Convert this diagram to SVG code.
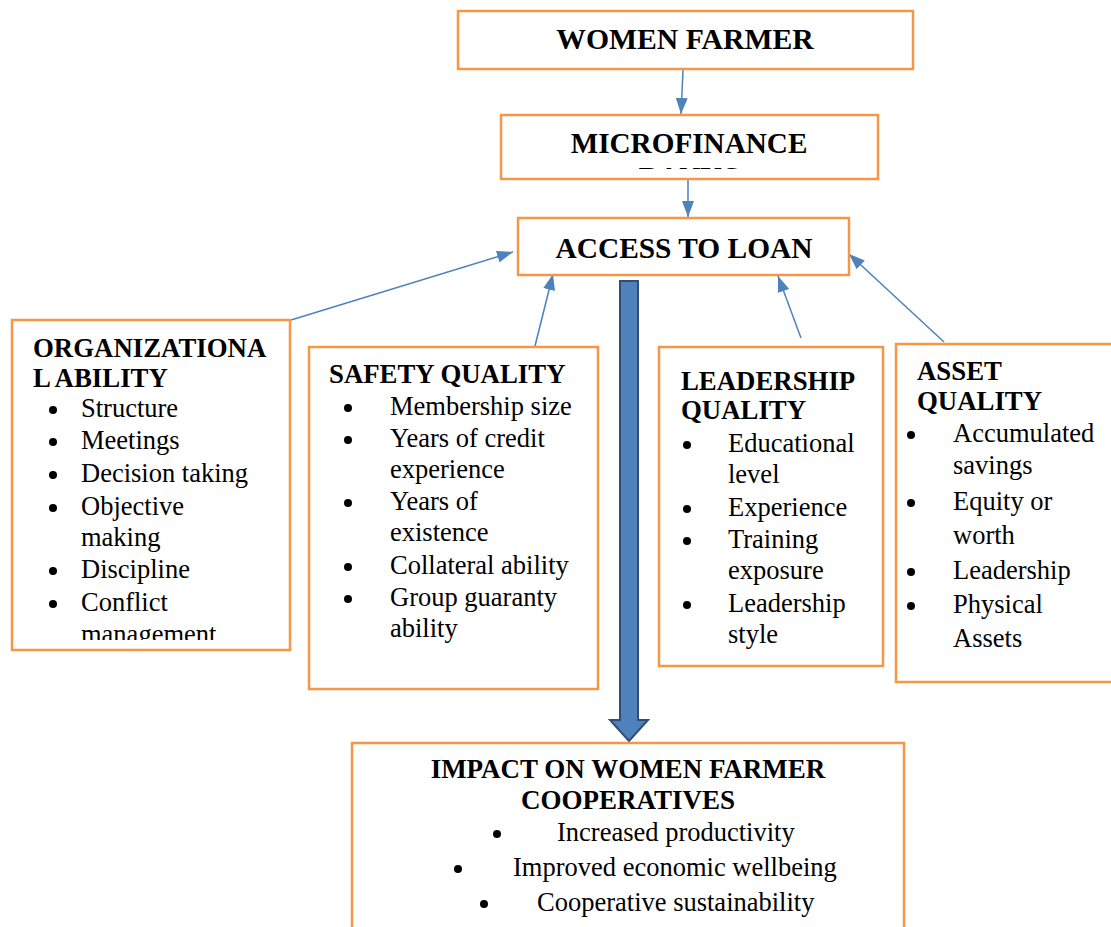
<svg xmlns="http://www.w3.org/2000/svg" width="1111" height="927" viewBox="0 0 1111 927">
  <style>
    .box { fill: #ffffff; stroke: #F79646; stroke-width: 2.5; }
    .title { font-family: "Liberation Serif", "Times New Roman", serif; font-weight: bold; fill: #000; }
    .body { font-family: "Liberation Serif", "Times New Roman", serif; font-size: 26.5px; fill: #000; }
    .dot { fill: #000; }
  </style>
  <defs>
    <marker id="headLg" viewBox="0 0 16 12" refX="16" refY="6" markerWidth="16" markerHeight="12" markerUnits="userSpaceOnUse" orient="auto">
      <path d="M0,0 L16,6 L0,12 Z" fill="#4F81BD"/>
    </marker>
    <clipPath id="clipMicro"><rect x="501" y="115" width="377" height="54"/></clipPath>
    <clipPath id="clipOrg"><rect x="12" y="320" width="278" height="320"/></clipPath>
  </defs>

  <!-- connectors -->
  <g id="connectors">
    <line x1="683" y1="70" x2="681" y2="114" stroke="#4F81BD" stroke-width="1.5" marker-end="url(#headLg)"/>
    <line x1="688" y1="179" x2="688" y2="217" stroke="#4F81BD" stroke-width="1.5" marker-end="url(#headLg)"/>
    <line x1="291" y1="320" x2="513" y2="252" stroke="#4F81BD" stroke-width="1.5" marker-end="url(#headLg)"/>
    <line x1="535" y1="346" x2="553" y2="274" stroke="#4F81BD" stroke-width="1.5" marker-end="url(#headLg)"/>
    <line x1="801" y1="338" x2="778" y2="276" stroke="#4F81BD" stroke-width="1.5" marker-end="url(#headLg)"/>
    <line x1="944" y1="342" x2="849" y2="254" stroke="#4F81BD" stroke-width="1.5" marker-end="url(#headLg)"/>
    <!-- block arrow to impact -->
    <path d="M620,281 L638,281 L638,720 L648,720 L629,741 L610,720 L620,720 Z" fill="#4F81BD" stroke="#2F4E74" stroke-width="2" stroke-linejoin="miter"/>
  </g>

  <g id="women-farmer">
    <rect class="box" x="458" y="11" width="455" height="58"/>
    <text class="title" x="685" y="49" font-size="29.7" text-anchor="middle">WOMEN FARMER</text>
  </g>

  <g id="microfinance">
    <rect class="box" x="501" y="115" width="377" height="64"/>
    <g clip-path="url(#clipMicro)">
      <text class="title" x="689" y="153" font-size="29.2" text-anchor="middle">MICROFINANCE</text>
      <text class="title" x="689" y="187" font-size="29.2" text-anchor="middle">BANKS</text>
    </g>
  </g>

  <g id="access-to-loan">
    <rect class="box" x="518" y="218" width="331" height="57"/>
    <text class="title" x="684" y="258" font-size="29.4" text-anchor="middle">ACCESS TO LOAN</text>
  </g>

  <g id="organizational-ability">
    <rect class="box" x="12" y="320" width="278" height="330"/>
    <g clip-path="url(#clipOrg)">
      <text class="title" x="33" y="357" font-size="26.8">ORGANIZATIONA</text>
      <text class="title" x="33" y="387" font-size="26.8">L ABILITY</text>
      <circle class="dot" cx="53" cy="410" r="4"/>
      <text class="body" x="81" y="417">Structure</text>
      <circle class="dot" cx="53" cy="442" r="4"/>
      <text class="body" x="81" y="449">Meetings</text>
      <circle class="dot" cx="53" cy="475" r="4"/>
      <text class="body" x="81" y="482">Decision taking</text>
      <circle class="dot" cx="53" cy="508" r="4"/>
      <text class="body" x="81" y="515">Objective</text>
      <text class="body" x="81" y="546">making</text>
      <circle class="dot" cx="53" cy="571" r="4"/>
      <text class="body" x="81" y="578">Discipline</text>
      <circle class="dot" cx="53" cy="604" r="4"/>
      <text class="body" x="81" y="611">Conflict</text>
      <text class="body" x="81" y="643">management</text>
    </g>
  </g>

  <g id="safety-quality">
    <rect class="box" x="309" y="347" width="289" height="342"/>
    <text class="title" x="329" y="383" font-size="26.8">SAFETY QUALITY</text>
    <circle class="dot" cx="348" cy="408" r="4"/>
    <text class="body" x="390" y="415">Membership size</text>
    <circle class="dot" cx="348" cy="440" r="4"/>
    <text class="body" x="390" y="447">Years of credit</text>
    <text class="body" x="390" y="478">experience</text>
    <circle class="dot" cx="348" cy="503" r="4"/>
    <text class="body" x="390" y="510">Years of</text>
    <text class="body" x="390" y="541">existence</text>
    <circle class="dot" cx="348" cy="567" r="4"/>
    <text class="body" x="390" y="574">Collateral ability</text>
    <circle class="dot" cx="348" cy="599" r="4"/>
    <text class="body" x="390" y="606">Group guaranty</text>
    <text class="body" x="390" y="637">ability</text>
  </g>

  <g id="leadership-quality">
    <rect class="box" x="659" y="347" width="224" height="319"/>
    <text class="title" x="681" y="390" font-size="26.8">LEADERSHIP</text>
    <text class="title" x="681" y="419" font-size="26.8">QUALITY</text>
    <circle class="dot" cx="687" cy="445" r="4"/>
    <text class="body" x="728" y="452">Educational</text>
    <text class="body" x="728" y="483">level</text>
    <circle class="dot" cx="687" cy="509" r="4"/>
    <text class="body" x="728" y="516">Experience</text>
    <circle class="dot" cx="687" cy="541" r="4"/>
    <text class="body" x="728" y="548">Training</text>
    <text class="body" x="728" y="579">exposure</text>
    <circle class="dot" cx="687" cy="605" r="4"/>
    <text class="body" x="728" y="612">Leadership</text>
    <text class="body" x="728" y="643">style</text>
  </g>

  <g id="asset-quality">
    <rect class="box" x="896" y="344" width="230" height="338"/>
    <text class="title" x="917" y="380" font-size="26.8">ASSET</text>
    <text class="title" x="917" y="410" font-size="26.8">QUALITY</text>
    <circle class="dot" cx="911" cy="435" r="4"/>
    <text class="body" x="953" y="442">Accumulated</text>
    <text class="body" x="953" y="474">savings</text>
    <circle class="dot" cx="911" cy="503" r="4"/>
    <text class="body" x="953" y="510">Equity or</text>
    <text class="body" x="953" y="544">worth</text>
    <circle class="dot" cx="911" cy="572" r="4"/>
    <text class="body" x="953" y="579">Leadership</text>
    <circle class="dot" cx="911" cy="606" r="4"/>
    <text class="body" x="953" y="613">Physical</text>
    <text class="body" x="953" y="647">Assets</text>
  </g>

  <g id="impact">
    <rect class="box" x="352" y="743" width="552" height="200"/>
    <text class="title" x="628" y="778" font-size="27" text-anchor="middle">IMPACT ON WOMEN FARMER</text>
    <text class="title" x="628" y="809" font-size="27" text-anchor="middle">COOPERATIVES</text>
    <circle class="dot" cx="497" cy="834" r="4"/>
    <text class="body" x="557" y="841">Increased productivity</text>
    <circle class="dot" cx="458" cy="869" r="4"/>
    <text class="body" x="513" y="876">Improved economic wellbeing</text>
    <circle class="dot" cx="484" cy="904" r="4"/>
    <text class="body" x="537" y="911">Cooperative sustainability</text>
  </g>
</svg>
